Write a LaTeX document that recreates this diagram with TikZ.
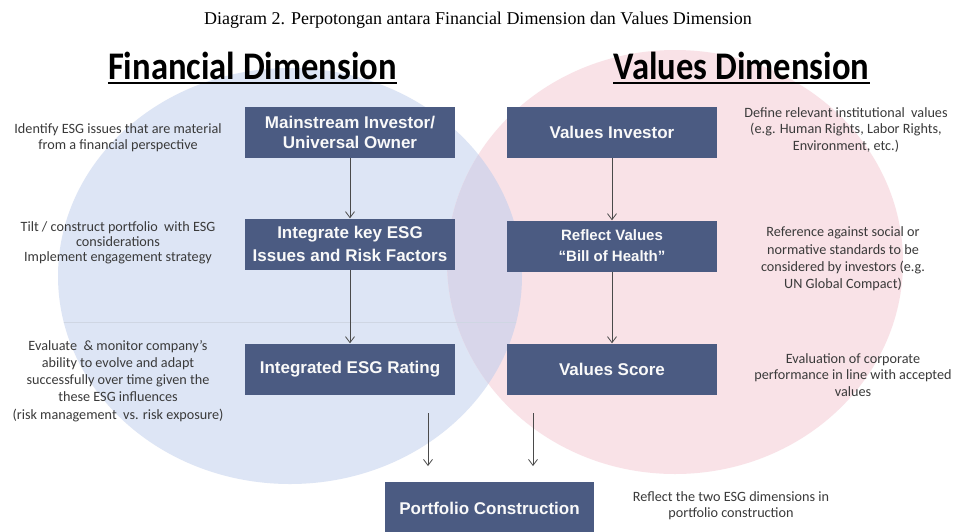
\documentclass[tikz,border=0pt]{standalone}
\usepackage{fontspec}
\usepackage{graphicx}
\setmainfont{Liberation Serif}
\newfontfamily\carl{Carlito}
\newfontfamily\arialf{Liberation Sans}
\usetikzlibrary{arrows.meta,calc}
\definecolor{boxc}{HTML}{4B5B82}
\definecolor{bluec}{HTML}{DDE5F5}
\definecolor{pinkc}{HTML}{F9E2E7}
\definecolor{overc}{HTML}{D8D6EA}
\definecolor{notec}{HTML}{3A3A3A}
\definecolor{arrc}{HTML}{4A4A4A}
\tikzset{
  box/.style={fill=boxc, text=white!95!gray, font=\arialf\bfseries\fontsize{17}{20}\selectfont,
    align=center, inner sep=0pt, minimum width=210pt, minimum height=51pt},
  note/.style={text=notec, font=\carl\fontsize{14.2}{16.3}\selectfont, align=center, inner sep=0pt},
  heading/.style={font=\carl\bfseries\fontsize{34.6}{38}\selectfont, inner sep=0pt, anchor=base, text=black},
  arr/.style={draw=arrc, line width=0.8pt, -{Straight Barb[length=6pt,width=9pt,line width=0.8pt]}}
}
\begin{document}
\begin{tikzpicture}[x=1pt,y=-1pt]
\useasboundingbox (0,0) rectangle (956,531);
\fill[white] (0,0) rectangle (956,531);
% circles
\fill[bluec] (290,276) ellipse [x radius=232, y radius=208];
\fill[pinkc] (675,262) ellipse [x radius=228, y radius=212];
\begin{scope}
  \clip (675,262) ellipse [x radius=228, y radius=212];
  \fill[overc] (290,276) ellipse [x radius=232, y radius=208];
\end{scope}
\begin{scope}
  \clip (290,276) ellipse [x radius=232, y radius=208];
  \draw[line width=0.8pt, color=bluec!85!gray] (40,322) -- (540,322);
\end{scope}
% title
\node[font=\fontsize{18}{21}\selectfont] (title) at (478,20) {Diagram 2. Perpotongan antara Financial Dimension dan Values Dimension};
% headings
\node[heading] (fd) at (252.5,79) {\scalebox{1}[1.13]{Financial Dimension}};
\node[heading] (vd) at (741.5,79) {\scalebox{1}[1.13]{Values Dimension}};
\draw[line width=2.4pt] ([yshift=-4pt]fd.base west) -- ([yshift=-4pt]fd.base east);
\draw[line width=2.4pt] ([yshift=-4pt]vd.base west) -- ([yshift=-4pt]vd.base east);
% boxes
\node[box] (m) at (350,132.5) {Mainstream Investor/\\Universal Owner};
\node[box, font=\arialf\bfseries\fontsize{17}{23}\selectfont] (i) at (350,244) {Integrate key ESG\\Issues and Risk Factors};
\node[box] (r) at (350,369) {Integrated ESG Rating};
\node[box] (vi) at (612,132.5) {Values Investor};
\node[box, font=\arialf\bfseries\fontsize{15}{21}\selectfont] (rv) at (612,246) {Reflect Values\\“Bill of Health”};
\node[box] (vs) at (612,369) {Values Score};
\node[box, minimum width=209pt, minimum height=53pt] (pc) at (489.5,508.5) {Portfolio Construction};
% arrows
\draw[arr] (m) -- (i);
\draw[arr] (i) -- (r);
\draw[arr] (vi) -- (rv);
\draw[arr] (rv) -- (vs);
\coordinate (a1s) at (428,413);
\coordinate (a1e) at (428,466);
\coordinate (a2s) at (533,413);
\coordinate (a2e) at (533,466);
\draw[arr] (a1s) -- (a1e);
\draw[arr] (a2s) -- (a2e);
% notes
\node[note] (n1) at (118,138) {Identify ESG issues that are material\\from a financial perspective};
\node[note, font=\carl\fontsize{14.2}{14.8}\selectfont] (n2) at (118,243) {Tilt / construct portfolio~ with ESG\\considerations\\Implement engagement strategy};
\node[note, font=\carl\fontsize{14.2}{17.2}\selectfont] (n3) at (118,381) {Evaluate~ \& monitor company’s\\ability to evolve and adapt\\successfully over time given the\\these ESG influences\\(risk management~ vs. risk exposure)};
\node[note] (n4) at (846,130) {Define relevant institutional~ values\\(e.g. Human Rights, Labor Rights,\\Environment, etc.)};
\node[note, font=\carl\fontsize{14.2}{17.3}\selectfont] (n5) at (843,259) {Reference against social or\\normative standards to be\\considered by investors (e.g.\\UN Global Compact)};
\node[note] (n6) at (853,375) {Evaluation of corporate\\performance in line with accepted\\values};
\node[note] (n7) at (731,506) {Reflect the two ESG dimensions in\\portfolio construction};
\end{tikzpicture}
\end{document}
